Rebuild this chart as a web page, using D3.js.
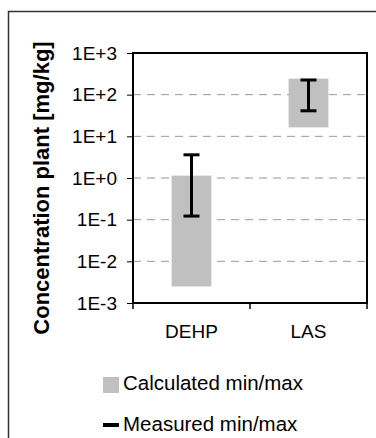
<!DOCTYPE html>
<html>
<head>
<meta charset="utf-8">
<title>Concentration plant</title>
<script src="https://cdn.jsdelivr.net/npm/d3@7"></script>
<style>
    body { margin: 0; background: #fff; }
    svg text { font-family: Arial, "Liberation Sans", sans-serif; fill: #000; }
    .grid line { stroke: #999; stroke-width: 1; stroke-dasharray: 8,6; }
</style>
</head>
<body>
<script>
// data
var categories = ["DEHP", "LAS"];
var calcMin = [0.0025, 16.4];
var calcMax = [1.14, 242];
var measMin = [0.122, 41];
var measMax = [3.6, 225];
var yTicks = [1e-3, 1e-2, 1e-1, 1e0, 1e1, 1e2, 1e3];

var width = 376, height = 438;
var margin = {top: 53, left: 133, right: 9, bottom: 135};

var svg = d3.select("body").append("svg")
    .attr("width", width)
    .attr("height", height);

// outer chart frame (runs off right/bottom edge)
svg.append("path")
    .attr("d", "M8.5," + (height + 5) + "V11.5H" + (width + 5))
    .attr("fill", "none")
    .attr("stroke", "#333")
    .attr("stroke-width", 1.5);

var x = d3.scaleBand()
    .domain(categories)
    .range([margin.left, width - margin.right])
    .paddingInner(0.66)
    .paddingOuter(0.33);

var y = d3.scaleLog()
    .domain([1e-3, 1e3])
    .range([height - margin.bottom, margin.top]);

function fmt(v) {
    var e = Math.round(Math.log10(v));
    return "1E" + (e >= 0 ? "+" : "-") + Math.abs(e);
}

// gridlines
svg.append("g").attr("class", "grid")
    .selectAll("line")
    .data(yTicks.slice(1, -1))
    .enter().append("line")
    .attr("x1", margin.left).attr("x2", width - margin.right)
    .attr("y1", function (d) { return y(d); })
    .attr("y2", function (d) { return y(d); });

// calculated min/max bars
svg.append("g").selectAll("rect")
    .data(categories)
    .enter().append("rect")
    .attr("x", function (d) { return x(d); })
    .attr("width", x.bandwidth())
    .attr("y", function (d, i) { return y(calcMax[i]); })
    .attr("height", function (d, i) { return y(calcMin[i]) - y(calcMax[i]); })
    .attr("fill", "#c0c0c0");

// measured min/max whiskers
var cap = 8;
var eb = svg.append("g").attr("stroke", "#000").attr("stroke-width", 3)
    .selectAll("g")
    .data(categories)
    .enter().append("g");
eb.append("line")
    .attr("x1", function (d) { return x(d) + x.bandwidth() / 2; })
    .attr("x2", function (d) { return x(d) + x.bandwidth() / 2; })
    .attr("y1", function (d, i) { return y(measMin[i]); })
    .attr("y2", function (d, i) { return y(measMax[i]); });
eb.append("line")
    .attr("x1", function (d) { return x(d) + x.bandwidth() / 2 - cap; })
    .attr("x2", function (d) { return x(d) + x.bandwidth() / 2 + cap; })
    .attr("y1", function (d, i) { return y(measMax[i]); })
    .attr("y2", function (d, i) { return y(measMax[i]); });
eb.append("line")
    .attr("x1", function (d) { return x(d) + x.bandwidth() / 2 - cap; })
    .attr("x2", function (d) { return x(d) + x.bandwidth() / 2 + cap; })
    .attr("y1", function (d, i) { return y(measMin[i]); })
    .attr("y2", function (d, i) { return y(measMin[i]); });

// plot frame
svg.append("rect")
    .attr("x", margin.left).attr("y", margin.top)
    .attr("width", width - margin.right - margin.left)
    .attr("height", height - margin.bottom - margin.top)
    .attr("fill", "none")
    .attr("stroke", "#000")
    .attr("stroke-width", 2);

// y axis
var yAxis = svg.append("g")
    .attr("transform", "translate(" + margin.left + ",0)")
    .call(d3.axisLeft(y).tickValues(yTicks).tickFormat(fmt).tickSize(6).tickPadding(10));
yAxis.select(".domain").remove();
yAxis.selectAll("line").attr("stroke", "#000").attr("stroke-width", 1);
yAxis.selectAll("text").attr("font-size", 19).attr("font-family", null);

// x axis: labels centred on bands, ticks between categories
var xAxis = svg.append("g")
    .attr("transform", "translate(0," + (height - margin.bottom) + ")")
    .call(d3.axisBottom(x).tickSize(0).tickPadding(22));
xAxis.select(".domain").remove();
xAxis.selectAll("text").attr("font-size", 19).attr("font-family", null);

var bounds = d3.range(categories.length + 1).map(function (i) {
    return x.range()[0] + i * x.step();
});
svg.append("g").selectAll("line")
    .data(bounds)
    .enter().append("line")
    .attr("x1", function (d) { return d; }).attr("x2", function (d) { return d; })
    .attr("y1", height - margin.bottom).attr("y2", height - margin.bottom + 6)
    .attr("stroke", "#000").attr("stroke-width", 1.5);

// y title
svg.append("text")
    .attr("transform", "translate(49," + 188 + ") rotate(-90)")
    .attr("text-anchor", "middle")
    .attr("font-size", 22)
    .attr("font-weight", "bold")
    .text("Concentration plant [mg/kg]");

// legend
var legend = svg.append("g").attr("transform", "translate(103,377)");
legend.append("rect")
    .attr("width", 16).attr("height", 16)
    .attr("fill", "#c0c0c0");
legend.append("text")
    .attr("x", 20).attr("y", 12.5)
    .attr("font-size", 20.5)
    .text("Calculated min/max");
legend.append("rect")
    .attr("x", 0).attr("y", 46)
    .attr("width", 16).attr("height", 4)
    .attr("fill", "#000");
legend.append("text")
    .attr("x", 20).attr("y", 53.5)
    .attr("font-size", 20.5)
    .text("Measured min/max");
</script>
</body>
</html>
